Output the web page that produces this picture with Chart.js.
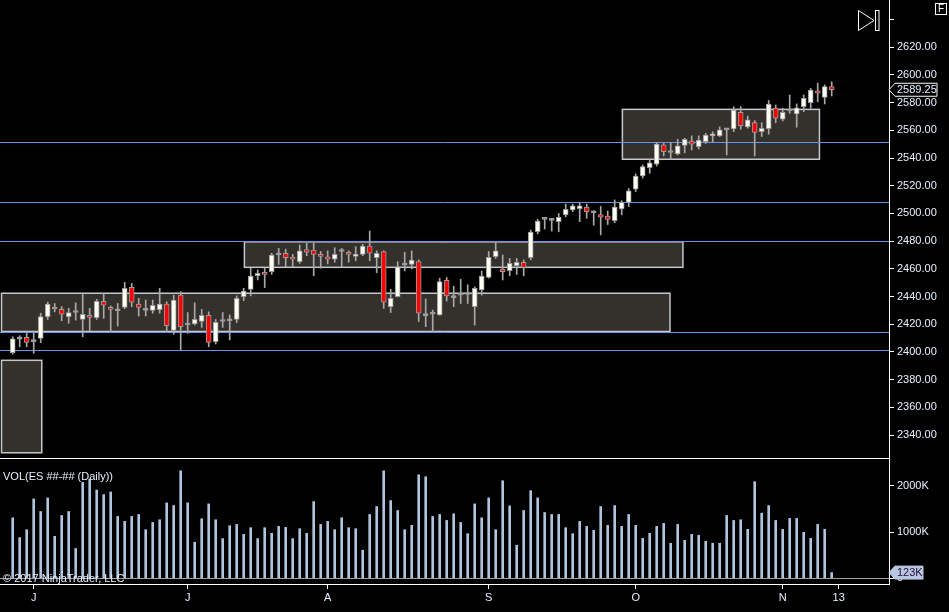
<!DOCTYPE html>
<html>
<head>
<meta charset="utf-8">
<script src="https://cdn.jsdelivr.net/npm/chart.js"></script>
<style>
html, body { margin: 0; padding: 0; background: #000; }
#wrap { position: relative; width: 949px; height: 612px; overflow: hidden; background: #000;
        font-family: "Liberation Sans", Arial, sans-serif; }
#priceChart { position: absolute; left: 0; top: 0; }
#volChart { position: absolute; left: 0; top: 459px; }
.txt { position: absolute; color: #e8f0ff; font-size: 11px; line-height: 13px; white-space: nowrap; }
#fbox { position: absolute; left: 935px; top: 3px; width: 10px; height: 10px; border: 1px solid #fff;
        color: #fff; font-size: 10px; line-height: 10px; text-align: center; }
</style>
</head>
<body>
<div id="wrap">
  <canvas id="priceChart" width="949" height="460"></canvas>
  <canvas id="volChart" width="949" height="153"></canvas>
  <div class="txt" style="left:3px; top:470px;">VOL(ES ##-## (Daily))</div>
  <div class="txt" style="left:3px; top:572px;">© 2017 NinjaTrader, LLC</div>
  <svg style="position:absolute; left:0; top:0;" width="949" height="40">
    <polygon points="858.5,10.5 874,20.5 858.5,30.5" fill="none" stroke="#fff" stroke-width="1"/>
    <rect x="875.5" y="10.5" width="3.5" height="20" fill="none" stroke="#fff" stroke-width="1"/>
  </svg>
  <div id="fbox">F</div>
</div>
<script>
// daily ES bars, oldest first
const opens = [2399.5,2409.25,2410.5,2407.5,2409.75,2425.5,2431,2430.75,2425.5,2428.5,
  2423.5,2426.5,2424.75,2436.5,2432.25,2429.75,2432.25,2446.75,2434.5,2430,
  2430,2430.5,2434.5,2415.5,2441,2419.5,2420.25,2422,2426.5,2407.5,
  2422,2422.5,2423.5,2440,2445.25,2455,2457.5,2458,2470,2471.25,
  2468.25,2465.25,2474,2473.5,2470.5,2468.75,2467,2472.5,2472,2469,
  2470.5,2476.5,2468,2472.5,2432.75,2440,2462.75,2463.25,2465.25,2426.25,
  2427.25,2426.75,2451.75,2439.25,2441,2441.5,2432.75,2444.75,2453.75,2468.75,
  2459.75,2458.75,2462.25,2464.75,2468,2486.75,2495.75,2495,2494,2499,
  2502.5,2503.5,2504.5,2500.5,2499.25,2498,2494.75,2503.25,2508,2517.5,
  2527,2533,2535.5,2549.5,2544,2543,2549,2552.25,2548.25,2551.75,
  2556,2556,2560.25,2561,2573,2562.5,2565.5,2559,2561.25,2576,
  2568,2574,2571.75,2577,2580,2588.5,2583.75,2591.5];
const highs = [2411,2411.75,2413.5,2413.5,2428,2436,2435,2432.75,2431.5,2435.5,
  2442.5,2431.5,2438,2442.5,2433.25,2435,2450.25,2449.5,2438.75,2437.5,
  2437.5,2446,2436.25,2441,2443.5,2428.5,2435.5,2430.75,2429,2423.5,
  2428.5,2426.75,2440.5,2446,2460.5,2459.25,2460.5,2471.25,2474.75,2474.25,
  2470.5,2477.25,2478.5,2478.5,2472.5,2473,2475.25,2474.75,2473,2476,
  2477.75,2487.25,2473,2473,2445.25,2465.25,2472,2473,2466.5,2438.25,
  2430.25,2453.25,2453.75,2447.5,2452.5,2448.5,2447,2458.5,2472.5,2479,
  2470,2467.5,2467.5,2466.5,2488,2495.75,2496,2496.5,2500,2506.75,
  2506.75,2507.75,2506.75,2502,2505,2501.75,2509.75,2509.25,2518,2528.5,
  2535,2538.5,2551,2550.5,2551,2553.5,2554.25,2556,2556,2557.75,
  2559,2562.5,2561.5,2577,2577,2570.25,2567,2565.5,2581.5,2578.25,
  2576,2585.5,2579,2585.5,2590.25,2594,2592.75,2595];
const lows = [2398.5,2403.75,2403.75,2399,2406.75,2423.5,2429,2422.5,2420.75,2423,
  2411,2415.5,2423.5,2424.25,2414.75,2418.75,2431.25,2432.75,2426,2426,
  2428,2428,2414.75,2412.75,2401.5,2413.5,2419.5,2417.75,2403.75,2405.75,
  2417.75,2408.75,2421.25,2437,2440.5,2452,2446.5,2456,2463.25,2461.5,
  2461.5,2464,2469.5,2455,2460.5,2463.5,2464.75,2461.5,2464.75,2465.75,
  2469.5,2465.75,2457.25,2431.5,2428.5,2439.75,2458.5,2460,2422,2418.25,
  2414.25,2426.5,2436.75,2432.75,2435,2435,2419.5,2441,2453.25,2467.5,
  2452,2455,2456,2455,2466.5,2485.25,2488.75,2487.25,2486.75,2497.5,
  2501.25,2494,2496.5,2491.5,2484.5,2492,2493.25,2499,2505,2515.75,
  2525.5,2529,2534.25,2541.5,2539.25,2542.25,2543.75,2545.75,2546.5,2550.5,
  2551.75,2555.5,2542.25,2559,2560.75,2561.5,2541.5,2555.5,2557.25,2565.5,
  2566.75,2572.25,2562.25,2573.5,2576,2580.5,2579,2584.75];
const closes = [2409.5,2409.25,2407,2407.5,2425.5,2434.5,2431,2427.25,2428.5,2428.5,
  2427.25,2425,2436.5,2433.75,2430.75,2429.75,2446,2436,2432.25,2430,
  2433.75,2434.5,2419,2437.5,2418.25,2419.5,2423.5,2426.5,2407,2421.5,
  2422,2422.5,2438.75,2444,2454.75,2456.75,2456,2470,2470,2468,
  2467,2473,2472,2470.5,2469,2467,2470.5,2472.5,2470.5,2470.75,
  2476.5,2471.25,2471.25,2436,2438.75,2461.5,2462.75,2466.25,2428,2426.25,
  2427.25,2450.75,2440.5,2439.25,2441,2441.5,2446,2454.75,2468.25,2473,
  2458,2464,2464.75,2461,2486.5,2494.5,2495.75,2495,2497.25,2503,
  2505.5,2505.5,2501.25,2500.5,2497.25,2495.75,2504.5,2508,2516.25,2527,
  2533.75,2536.5,2550,2544.5,2544,2548.75,2553.5,2550,2553,2556.5,
  2557.25,2560.25,2560.25,2574.5,2563.25,2567.5,2558.5,2561.5,2579,2568.75,
  2573,2574,2576.25,2583,2589,2586.75,2591.5,2589.25];
// volume in thousands
const volumes = [1307,879,1050,1714,1443,1736,907,1357,1443,643,
  2071,2143,1907,1807,1864,1336,1229,1336,1379,1050,
  1207,1264,1629,1571,2321,1629,779,1286,1607,1264,
  857,1136,1164,950,1093,857,1093,971,1121,1100,
  857,1071,971,1657,1164,1229,1050,1307,1093,1071,
  607,1379,1550,2321,1679,1464,1050,1143,2236,2193,
  1336,1379,1250,1393,1207,964,1607,1307,1736,1050,
  2107,1564,714,1464,1893,1736,1421,1379,1379,1093,
  964,1229,1121,1036,1550,1143,1571,1121,1379,1143,
  864,971,1121,1186,757,1164,821,950,929,800,
  757,757,1357,1250,1264,1057,2086,1407,1571,1250,
  1057,1293,1293,993,864,1164,1057,123];

// axis labels
const monthTickIndex = [3, 25, 45, 68, 89, 110, 118];
const monthTickLabels = ['J', 'J', 'A', 'S', 'O', 'N', '13'];
const priceTicks = [2340,2360,2380,2400,2420,2440,2460,2480,2500,2520,2540,2560,2580,2600,2620,2640];
const volTicks = [0, 1000, 2000];

// drawn zones (bar index from/to, price top/bottom) and horizontal levels
const zoneStart = [-1.6, -1.6, 33.1, 87.1];
const zoneEnd = [4.15, 93.9, 95.75, 115.25];
const zoneTop = [2394, 2442.4, 2479.5, 2575.1];
const zoneBottom = [2327.3, 2414.8, 2461.1, 2539.1];
const levels = [2551.3, 2508.2, 2480.1, 2414.4, 2401.4];

const xMin = -1.8143, xMax = 125.186;
const textColor = '#e8f0ff';
Chart.defaults.font.family = '"Liberation Sans", Arial, sans-serif';
Chart.defaults.font.size = 11;
Chart.defaults.color = textColor;

const idx = closes.map((c, i) => i);
const bodyColors = idx.map(i => closes[i] > opens[i] ? '#fffff4' : (closes[i] < opens[i] ? '#ff0000' : '#a8a8a8'));

const zonesPlugin = {
  id: 'zones',
  beforeDatasetsDraw(chart) {
    const {ctx, chartArea: a, scales: {x, y}} = chart;
    ctx.save();
    ctx.beginPath();
    ctx.rect(a.left, a.top, a.right - a.left, a.bottom - a.top);
    ctx.clip();
    zoneStart.forEach((s, k) => {
      const x0 = x.getPixelForValue(s), x1 = x.getPixelForValue(zoneEnd[k]);
      const y0 = y.getPixelForValue(zoneTop[k]), y1 = y.getPixelForValue(zoneBottom[k]);
      ctx.fillStyle = '#34302c';
      ctx.fillRect(x0, y0, x1 - x0, y1 - y0);
      ctx.strokeStyle = '#c4c8cc';
      ctx.lineWidth = 1.5;
      ctx.strokeRect(x0, y0, x1 - x0, y1 - y0);
    });
    ctx.strokeStyle = '#6495ed';
    ctx.lineWidth = 1;
    levels.forEach(v => {
      const py = Math.round(y.getPixelForValue(v)) + 0.5;
      ctx.beginPath();
      ctx.moveTo(a.left, py);
      ctx.lineTo(a.right, py);
      ctx.stroke();
    });
    ctx.restore();
  }
};

function drawTag(chart, value, text, fill, stroke, color, w) {
  const {ctx, chartArea: a, scales: {y}} = chart;
  const py = y.getPixelForValue(value);
  const x0 = a.right, h = 6.5;
  ctx.save();
  ctx.beginPath();
  ctx.moveTo(x0, py);
  ctx.lineTo(x0 + 6, py - h);
  ctx.lineTo(x0 + w, py - h);
  ctx.lineTo(x0 + w, py + h);
  ctx.lineTo(x0 + 6, py + h);
  ctx.closePath();
  ctx.fillStyle = fill;
  ctx.fill();
  ctx.strokeStyle = stroke;
  ctx.lineWidth = 1;
  ctx.stroke();
  ctx.fillStyle = color;
  ctx.font = '11px "Liberation Sans", Arial, sans-serif';
  ctx.textBaseline = 'middle';
  ctx.fillText(text, x0 + 8, py + 0.5);
  ctx.restore();
}

const priceTag = {
  id: 'priceTag',
  afterDraw(chart) {
    drawTag(chart, closes[closes.length - 1], closes[closes.length - 1].toFixed(2), '#000', '#fff', textColor, 48);
  }
};
const volTag = {
  id: 'volTag',
  afterDraw(chart) {
    const v = volumes[volumes.length - 1];
    drawTag(chart, v, v + 'K', '#b8c8e0', '#b8c8e0', '#2a0838', 34);
  }
};

new Chart(document.getElementById('priceChart'), {
  type: 'bar',
  data: {
    datasets: [
      {
        label: 'body',
        data: idx.map(i => ({x: i, y: [Math.min(opens[i], closes[i]), Math.max(opens[i], closes[i])]})),
        backgroundColor: bodyColors,
        borderColor: '#9a9a9a',
        borderWidth: 1,
        borderSkipped: false,
        barThickness: 5,
        minBarLength: 2,
        grouped: false,
        order: 0
      },
      {
        label: 'wick',
        data: idx.map(i => ({x: i, y: [lows[i], highs[i]]})),
        backgroundColor: '#a8a8a8',
        barThickness: 1,
        grouped: false,
        order: 1
      }
    ]
  },
  options: {
    responsive: false,
    animation: false,
    layout: {padding: {left: 0, right: 0, top: 0, bottom: 2}},
    plugins: {legend: {display: false}, tooltip: {enabled: false}},
    scales: {
      x: {
        type: 'linear', min: xMin, max: xMax, offset: false, bounds: 'data',
        ticks: {display: false},
        grid: {drawOnChartArea: false, drawTicks: false, offset: false},
        border: {color: '#fff'},
        afterFit: s => { s.height = 0; s.paddingLeft = 0; s.paddingRight = 0; }
      },
      y: {
        position: 'right',
        min: 2400 - (458 - 352) / 1.3857,
        max: 2400 + 352 / 1.3857,
        afterBuildTicks: s => { s.ticks = priceTicks.map(v => ({value: v})); },
        ticks: {callback: v => v === 2640 ? '' : v.toFixed(2), padding: 3, color: textColor, autoSkip: false},
        grid: {drawOnChartArea: false, tickLength: 5, tickColor: '#fff'},
        border: {color: '#fff'},
        afterFit: s => { s.width = 60; s.paddingTop = 0; s.paddingBottom = 0; }
      }
    }
  },
  plugins: [zonesPlugin, priceTag]
});

new Chart(document.getElementById('volChart'), {
  type: 'bar',
  data: {
    datasets: [{
      label: 'VOL',
      data: volumes.map((v, i) => ({x: i, y: v})),
      backgroundColor: '#b0c4de',
      barThickness: 2,
      grouped: false
    }]
  },
  options: {
    responsive: false,
    animation: false,
    layout: {padding: 0},
    plugins: {legend: {display: false}, tooltip: {enabled: false}},
    scales: {
      x: {
        type: 'linear', min: xMin, max: xMax, offset: false, bounds: 'data',
        afterBuildTicks: s => { s.ticks = monthTickIndex.map(v => ({value: v})); },
        ticks: {callback: (v, i) => monthTickLabels[i], padding: 2, color: textColor, maxRotation: 0, autoSkip: false},
        grid: {drawOnChartArea: false, tickLength: 5, tickColor: '#fff', offset: false},
        border: {color: '#fff'},
        afterFit: s => { s.height = 28; s.paddingLeft = 0; s.paddingRight = 0; }
      },
      y: {
        position: 'right',
        min: -(125 - 119.3) / 0.0463,
        max: 119.3 / 0.0463,
        afterBuildTicks: s => { s.ticks = volTicks.map(v => ({value: v})); },
        ticks: {callback: v => v === 0 ? '0' : v + 'K', padding: 3, color: textColor, autoSkip: false},
        grid: {
          color: c => (c.tick && c.tick.value === 0) ? '#a0a0a0' : 'rgba(0,0,0,0)',
          tickColor: '#fff', tickLength: 5
        },
        border: {color: '#fff'},
        afterFit: s => { s.width = 60; s.paddingTop = 0; s.paddingBottom = 0; }
      }
    }
  },
  plugins: [volTag]
});
</script>
</body>
</html>
